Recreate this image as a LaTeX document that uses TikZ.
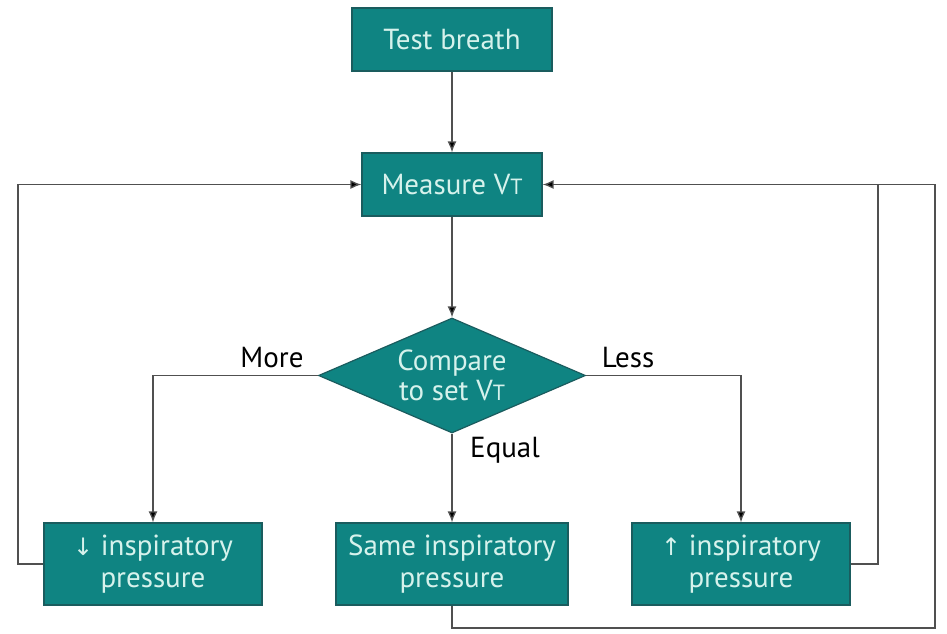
\documentclass[tikz,border=0pt]{standalone}
\usepackage{fontspec}
\setmainfont{PT Sans}
\newfontfamily\arrfont{DejaVu Sans}
\usetikzlibrary{shapes.geometric,arrows.meta}
\definecolor{teal1}{HTML}{0F8482}
\definecolor{tealdark}{HTML}{1A5C5E}
\definecolor{txt}{HTML}{D6F2EC}
\definecolor{ln}{HTML}{505050}
\newcommand{\vt}{V{\fontsize{22}{22}\selectfont T}}
\tikzset{
  box/.style={draw=tealdark, line width=1.2pt, fill=teal1, text=txt, align=center,
    font=\fontsize{29}{32}\selectfont, inner sep=0pt},
  dia/.style={diamond, draw=tealdark, line width=1.2pt, fill=teal1, text=txt, align=center,
    font=\fontsize{29}{32}\selectfont, inner sep=0pt, aspect=2.32},
  conn/.style={draw=ln, line width=1.3pt},
  arr/.style={conn, -{Latex[length=11pt,width=9pt,fill=black]}},
  lbl/.style={font=\fontsize{29}{30}\selectfont, text=black}
}
\begin{document}
\begin{tikzpicture}[x=1pt,y=-1pt]
\useasboundingbox (0,0) rectangle (947,634);
\node[box, minimum width=200, minimum height=63] (test) at (452,39.5) {Test breath};
\node[box, minimum width=180, minimum height=63] (meas) at (452,184.5) {Measure \vt};
\node[dia, minimum width=267, minimum height=115] (cmp) at (452,375.5) {Compare\\[-2pt]to set \vt};
\node[box, minimum width=218, minimum height=82] (dec) at (153,564) {{\arrfont\fontsize{24}{24}\selectfont ↓} inspiratory\\pressure};
\node[box, minimum width=232, minimum height=82] (same) at (452,564) {Same inspiratory\\pressure};
\node[box, minimum width=218, minimum height=82] (inc) at (741,564) {{\arrfont\fontsize{24}{24}\selectfont ↑} inspiratory\\pressure};

\coordinate (lj) at (18,184.5);
\coordinate (rj) at (878,184.5);
\coordinate (fr) at (935,184.5);

\draw[arr] (test) -- (meas);
\draw[arr] (meas) -- (cmp);
\draw[arr] (cmp.west) -| (dec.north);
\draw[arr] (cmp.east) -| (inc.north);
\draw[arr] (cmp.south) -- (same.north);
\draw[arr] (dec.west) -| (lj) -- (meas.west);
\draw[arr] (inc.east) -| (rj) -- (meas.east);
\draw[conn] (same.south) |- (935,628) -- (fr) -- (rj);

\node[lbl] (more) at (272,358) {More};
\node[lbl] (less) at (628,358) {Less};
\node[lbl] (equal) at (505,450) {Equal};
\end{tikzpicture}
\end{document}
